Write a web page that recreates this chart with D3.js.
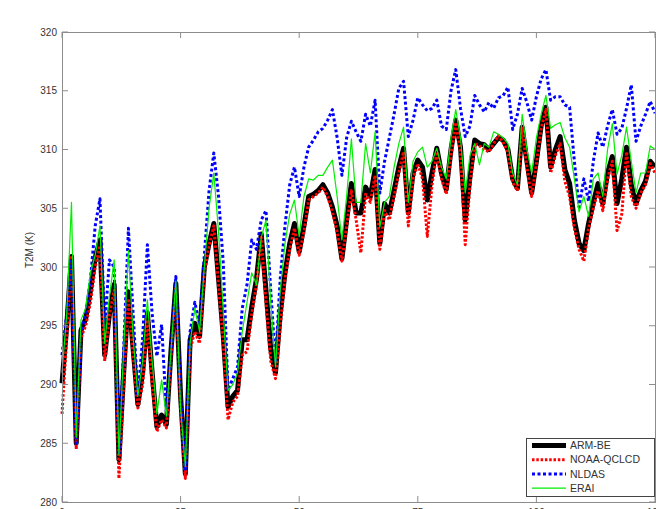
<!DOCTYPE html>
<html>
<head>
<meta charset="utf-8">
<script src="https://cdn.jsdelivr.net/npm/d3@7"></script>
<style>
  html, body { margin: 0; padding: 0; background: #fff; }
  svg { display: block; font-family: "Liberation Sans", Arial, Helvetica, sans-serif; }
</style>
</head>
<body>
<svg id="chart"></svg>
<script>
// ---- data (daily 2 m temperature, K) ----
const xTicks = [0, 25, 50, 75, 100, 125];
const yTicks = [280, 285, 290, 295, 300, 305, 310, 315, 320];

const armBE = [
  290.1, 295.0, 300.9, 285.0, 294.6, 295.6, 298.0, 300.8, 302.3, 292.5,
  296.0, 298.5, 283.6, 291.0, 297.9, 293.0, 288.3, 291.0, 296.1, 291.0,
  286.4, 287.4, 286.6, 293.0, 298.6, 289.0, 282.4, 293.8, 295.2, 294.1,
  300.0, 302.0, 303.7, 299.0, 294.1, 288.1, 289.0, 289.5, 293.8, 293.8,
  296.6, 299.0, 302.8, 298.0, 293.0, 291.0, 296.0, 299.5, 302.0, 303.7,
  301.3, 303.5, 306.0, 306.2, 306.5, 307.0, 306.3, 305.1, 303.5, 300.7,
  304.0, 307.1, 304.6, 304.6, 306.8, 306.0, 308.3, 302.0, 305.4, 304.6,
  306.5, 308.5, 310.1, 304.6, 308.0, 309.1, 308.5, 305.7, 308.0, 310.1,
  308.0, 306.6, 310.0, 312.5, 310.2, 304.0, 307.7, 310.8, 310.5, 310.4,
  310.0, 310.5, 311.0, 310.8, 310.0, 307.5, 306.7, 311.9, 309.0, 306.3,
  309.0, 312.0, 313.6, 308.5, 310.0, 311.1, 308.3, 307.1, 304.0, 302.0,
  301.4, 303.7, 305.5, 307.1, 305.4, 308.0, 309.4, 305.4, 307.5, 310.2,
  307.0, 305.4, 306.5, 307.3, 309.0, 308.5
];

const noaa = [
  287.5, 294.0, 300.8, 284.5, 294.0, 295.0, 297.0, 300.0, 301.8, 292.0,
  296.0, 298.0, 282.0, 290.0, 297.3, 292.5, 288.0, 290.0, 295.5, 290.0,
  286.0, 287.0, 286.3, 292.5, 298.3, 288.0, 282.0, 293.0, 294.5, 293.5,
  299.5, 301.8, 303.5, 298.5, 293.5, 287.0, 288.5, 289.0, 292.5, 292.8,
  296.0, 298.5, 302.5, 297.0, 292.0, 290.5, 295.0, 299.0, 301.5, 303.3,
  301.0, 303.0, 305.7, 306.0, 306.3, 306.8, 306.0, 304.7, 303.0, 300.5,
  303.5, 306.5, 304.0, 301.2, 306.2, 305.5, 307.8, 301.5, 304.8, 304.0,
  306.0, 308.0, 309.8, 303.5, 307.5, 308.8, 307.5, 302.6, 307.0, 309.8,
  307.5, 306.2, 309.5, 312.3, 309.8, 301.9, 307.0, 310.5, 310.3, 310.0,
  309.8, 310.5, 311.2, 310.6, 309.8, 307.2, 306.5, 311.8, 308.5, 306.0,
  308.8, 311.8, 313.4, 308.0, 309.5, 310.5, 307.3, 306.0, 303.3, 301.5,
  300.5, 303.3, 305.0, 306.5, 304.8, 307.5, 309.0, 303.1, 304.5, 309.8,
  306.0, 305.0, 306.3, 307.0, 308.8, 308.0
];

const nldas = [
  292.5, 296.0, 300.5, 285.0, 294.5, 296.0, 299.0, 303.5, 305.8, 295.0,
  300.6, 300.0, 284.0, 293.0, 303.3, 296.0, 289.0, 294.0, 301.9, 296.0,
  292.4, 295.1, 287.7, 293.0, 299.2, 289.0, 282.8, 294.5, 297.0, 295.0,
  301.0, 306.5, 309.7, 306.0, 300.3, 289.5, 290.5, 291.5, 296.5, 298.5,
  302.3, 301.5, 304.0, 304.8, 298.0, 292.0, 299.0, 303.5, 307.0, 308.5,
  306.0, 308.5, 310.2, 310.8, 311.5, 311.8, 312.5, 313.4, 311.0, 307.8,
  311.0, 312.4, 311.5, 310.7, 313.0, 312.0, 314.2, 306.3, 309.0, 311.0,
  313.0, 315.2, 315.8, 311.1, 312.5, 314.4, 313.8, 313.3, 313.5, 314.2,
  312.0, 311.7, 315.0, 316.8, 313.5, 311.1, 312.0, 314.6, 313.8, 313.2,
  314.0, 313.5, 314.4, 314.6, 315.3, 311.7, 313.0, 315.2, 314.0, 312.5,
  314.5, 316.0, 316.8, 314.2, 314.5, 314.5, 313.8, 313.6, 309.0, 305.1,
  307.5, 305.6, 309.0, 311.4, 310.2, 312.0, 313.4, 311.3, 311.8, 313.5,
  315.5, 310.7, 312.0, 313.0, 314.1, 313.1
];

const erai = [
  291.0, 296.0, 305.5, 285.5, 295.5, 296.5, 299.5, 301.0, 303.5, 293.5,
  297.5, 300.6, 284.0, 293.0, 301.4, 294.0, 289.0, 292.0, 297.2, 292.0,
  287.5, 290.4, 287.3, 293.0, 298.8, 288.0, 283.0, 293.5, 296.5, 294.5,
  300.0, 305.0, 308.0, 303.0, 296.1, 289.5, 290.0, 291.0, 294.5, 297.0,
  299.5, 298.5, 302.5, 304.0, 297.0, 291.5, 298.0, 302.0, 304.5, 305.7,
  302.6, 306.0, 307.5, 307.4, 307.8, 307.8, 308.5, 309.1, 306.0, 302.3,
  306.0, 310.9, 305.5, 305.5, 310.5, 308.0, 311.5, 303.4, 305.5, 306.0,
  308.5, 310.5, 311.9, 305.5, 309.0, 309.8, 310.2, 308.5, 309.0, 310.1,
  308.5, 307.5, 311.0, 313.4, 311.0, 306.3, 309.5, 310.5, 308.7, 310.5,
  310.2, 311.5, 311.3, 311.0, 310.5, 308.0, 307.0, 313.0, 310.0, 308.0,
  311.0, 313.0, 314.6, 311.8, 312.1, 312.3, 311.0, 310.2, 307.5, 304.7,
  306.0, 304.3, 307.5, 308.0, 306.0, 310.0, 312.2, 307.9, 309.5, 311.9,
  309.0, 306.3, 308.0, 308.0, 310.3, 310.0
];

// ---- layout ----
const width = 656, height = 509;
const margin = { left: 62, right: 1, top: 32, bottom: 7 };

const svg = d3.select("#chart").attr("width", width).attr("height", height);

const x = d3.scaleLinear().domain([0, 125]).range([margin.left, width - margin.right]);
const y = d3.scaleLinear().domain([280, 320]).range([height - margin.bottom, margin.top]);

const axisColor = "#8c8c8c";
const textColor = "#333";

// series styles, drawn in legend order
const series = [
  { name: "ARM-BE", values: armBE, color: "#000", width: 5, dash: null },
  { name: "NOAA-QCLCD", values: noaa, color: "#ff0000", width: 3, dash: "2.5,1.8" },
  { name: "NLDAS", values: nldas, color: "#0000ff", width: 3, dash: "3,2.5" },
  { name: "ERAI", values: erai, color: "#00ee00", width: 1.2, dash: null }
];

const line = d3.line()
  .x((d, i) => x(i))
  .y(d => y(d));

const plot = svg.append("g");
plot.selectAll("path")
  .data(series)
  .join("path")
  .attr("d", d => line(d.values))
  .attr("fill", "none")
  .attr("stroke", d => d.color)
  .attr("stroke-width", d => d.width)
  .attr("stroke-dasharray", d => d.dash)
  .attr("stroke-linejoin", "round");

// ---- axes (box with inward ticks, MATLAB-like) ----
const x0 = x(0), x1 = x(125), yB = y(280), yT = y(320);
const frame = svg.append("g").attr("stroke", axisColor).attr("stroke-width", 1).attr("fill", "none");
frame.append("path").attr("d", `M${x0},${yT}H${x1}V${yB}H${x0}Z`).attr("shape-rendering", "crispEdges");

const tickLen = 6;
yTicks.forEach(t => {
  frame.append("line").attr("x1", x0).attr("x2", x0 + tickLen).attr("y1", y(t)).attr("y2", y(t));
  frame.append("line").attr("x1", x1).attr("x2", x1 - tickLen).attr("y1", y(t)).attr("y2", y(t));
});
xTicks.forEach(t => {
  frame.append("line").attr("x1", x(t)).attr("x2", x(t)).attr("y1", yB).attr("y2", yB - tickLen);
  frame.append("line").attr("x1", x(t)).attr("x2", x(t)).attr("y1", yT).attr("y2", yT + tickLen);
});

svg.append("g").selectAll("text")
  .data(yTicks)
  .join("text")
  .attr("x", x0 - 5)
  .attr("y", d => y(d))
  .attr("dy", "0.35em")
  .attr("text-anchor", "end")
  .attr("font-size", 10)
  .attr("fill", textColor)
  .text(d => d);

// bottom labels are cut by the picture edge
svg.append("g").selectAll("text")
  .data(xTicks)
  .join("text")
  .attr("x", d => x(d))
  .attr("y", yB + 14)
  .attr("text-anchor", "middle")
  .attr("font-size", 10)
  .attr("fill", textColor)
  .text(d => d);

svg.append("text")
  .attr("transform", `translate(33,250) rotate(-90)`)
  .attr("text-anchor", "middle")
  .attr("font-size", 10)
  .attr("fill", textColor)
  .text("T2M (K)");

// ---- legend ----
const lg = svg.append("g").attr("transform", "translate(526,438)");
lg.append("rect")
  .attr("width", 128).attr("height", 58)
  .attr("fill", "#fff").attr("stroke", "#444").attr("stroke-width", 1)
  .attr("shape-rendering", "crispEdges");

series.forEach((s, i) => {
  const yy = 7.5 + i * 14.2;
  lg.append("line")
    .attr("x1", 6).attr("x2", 40).attr("y1", yy).attr("y2", yy)
    .attr("stroke", s.color)
    .attr("stroke-width", s.width)
    .attr("stroke-dasharray", s.dash);
  lg.append("text")
    .attr("x", 44).attr("y", yy).attr("dy", "0.35em")
    .attr("font-size", 10.5)
    .attr("fill", textColor)
    .text(s.name);
});
</script>
</body>
</html>
